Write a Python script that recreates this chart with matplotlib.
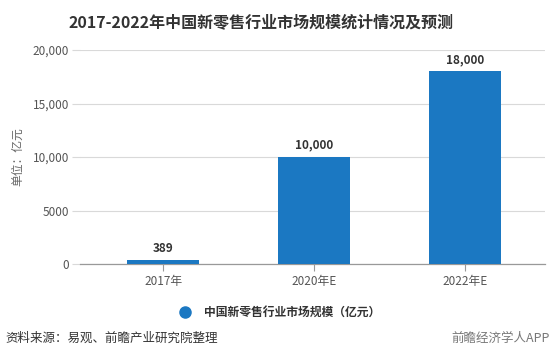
import matplotlib
matplotlib.use("Agg")
import matplotlib.pyplot as plt
from matplotlib.lines import Line2D

plt.rcParams['font.family'] = ['Noto Sans CJK SC', 'DejaVu Sans']

categories = ["2017年", "2020年E", "2022年E"]
values = [389, 10000, 18000]
value_labels = ["389", "10,000", "18,000"]
yticks = [0, 5000, 10000, 15000, 20000]
ytick_labels = ["0", "5000", "10,000", "15,000", "20,000"]

title = "2017-2022年中国新零售行业市场规模统计情况及预测"
ylabel = "单位：亿元"
legend_label = "中国新零售行业市场规模（亿元）"
source = "资料来源：易观、前瞻产业研究院整理"
brand = "前瞻经济学人APP"

bar_color = "#1b78c2"

fig = plt.figure(figsize=(5.53, 3.63), dpi=100)
ax = fig.add_axes([0.1447, 0.2727, 0.9855 - 0.1447, 0.862 - 0.2727])

x = list(range(len(categories)))
ax.bar(x, values, width=0.48, color=bar_color, zorder=3)
for xi, v, lab in zip(x, values, value_labels):
    ax.text(xi, v + 500, lab, ha='center', va='bottom', fontsize=8.5,
            fontweight='bold', color='#333333')

ax.set_xlim(-0.55, 2.53)
ax.set_ylim(0, 20000)
ax.set_yticks(yticks)
ax.set_yticklabels(ytick_labels)
ax.set_xticks(x)
ax.set_xticklabels(categories)
ax.grid(axis='y', color='#d9d9d9', linewidth=0.8, zorder=0)
for s in ['top', 'right', 'left']:
    ax.spines[s].set_visible(False)
ax.spines['bottom'].set_color('#999999')
ax.spines['bottom'].set_linewidth(0.9)
ax.tick_params(axis='y', length=6, color='#d9d9d9', labelsize=8.5, labelcolor='#555555', pad=2)
ax.tick_params(axis='x', length=5, color='#999999', labelsize=8.5, labelcolor='#555555', pad=3)
ax.set_ylabel(ylabel, fontsize=8.5, color='#666666', labelpad=6)

fig.text(0.472, 0.94, title, ha='center', va='center', fontsize=11.5,
         fontweight='bold', color='#333333')

handle = Line2D([], [], marker='o', linestyle='none', markersize=8,
                markerfacecolor=bar_color, markeredgecolor=bar_color)
leg = fig.legend([handle], [legend_label], loc='center', bbox_to_anchor=(0.5, 0.14),
                 frameon=False, fontsize=8.5, handletextpad=0.6)
for t in leg.get_texts():
    t.set_fontweight('bold')
    t.set_color('#333333')

fig.text(0.01, 0.068, source, ha='left', va='center', fontsize=9, color='#333333')
fig.text(0.995, 0.068, brand, ha='right', va='center', fontsize=9, color='#777777')

fig.savefig("out.png", dpi=100)
